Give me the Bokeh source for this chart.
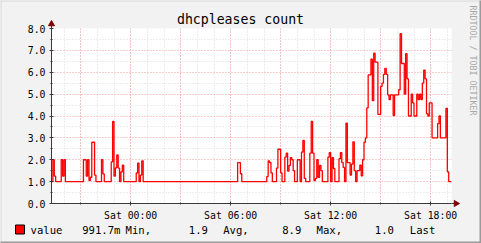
import math
from bokeh.plotting import figure
from bokeh.models import FixedTicker, Range1d, ColumnDataSource, PrintfTickFormatter
from bokeh.core.properties import value
from bokeh.embed import file_html
from bokeh.resources import INLINE

# ---- data: step starts in minutes since Sat 00:00 (negative = Friday evening) ----
t_min = [-285, -280, -275, -270, -250, -245, -240, -235,
         -170, -160, -155, -150, -145, -140, -130, -125,
         -105, -100, -95,
         -70, -65, -60, -55, -50, -45, -40, -35, -30, -25,
         20, 25, 30, 35, 40, 45,
         385, 395, 400,
         490, 495, 500, 505, 510,
         525, 530, 540, 545,
         555, 560, 565, 570, 575, 580, 585, 590,
         600, 610, 615, 620, 625, 630,
         645, 650, 655, 660, 665, 670, 675, 680, 685, 690,
         710, 715, 720, 725, 730, 735,
         750, 755, 760, 765, 770, 775, 780, 790, 795, 800, 805, 810,
         815, 825, 830, 835, 840, 845, 850, 855, 865, 870, 875, 880,
         890, 900, 905, 910, 915, 920, 925, 930, 935, 945, 950,
         965, 970, 975, 985, 990, 995, 1000, 1010, 1015, 1020,
         1030, 1035, 1040, 1045, 1050, 1055, 1060, 1065, 1070, 1075,
         1085, 1105, 1110, 1115, 1135, 1140, 1145, 1155]
values = [1.0, 2.0, 1.25, 1.0, 2.0, 1.25, 2.0, 1.0,
          2.0, 1.25, 2.0, 1.05, 1.2, 2.8, 1.3, 1.0,
          2.0, 1.35, 1.0,
          1.9, 3.75, 1.25, 1.63, 2.22, 1.62, 1.0, 1.45, 1.75, 1.0,
          1.4, 1.85, 1.0, 1.3, 1.95, 1.0,
          1.87, 1.36, 1.0,
          1.23, 1.95, 1.87, 1.4, 1.0,
          1.62, 2.48, 1.4, 1.0,
          2.12, 2.3, 1.48, 1.74, 2.1, 2.0, 1.5, 1.0,
          2.0, 1.0, 2.35, 2.88, 1.15, 1.0,
          2.3, 3.75, 2.3, 1.05, 1.15, 2.0, 1.2, 1.74, 1.5, 1.0,
          2.12, 2.33, 1.0, 2.1, 1.6, 1.0,
          2.05, 2.33, 1.87, 1.65, 1.0, 3.67, 1.87, 1.3, 1.8, 2.82, 1.5, 1.0,
          1.5, 1.75, 1.26, 2.0, 2.8, 3.0, 4.37, 5.88, 6.6, 4.7, 6.87, 6.46,
          4.07, 5.35, 5.5, 5.9, 6.18, 5.9, 4.97, 4.75, 4.97, 4.02, 4.97,
          5.2, 7.76, 6.4, 5.0, 6.85, 5.7, 4.0, 5.0, 4.6, 4.0,
          5.0, 4.75, 5.0, 4.75, 5.5, 6.1, 5.7, 4.1, 4.0, 4.6,
          3.0, 3.65, 4.0, 3.0, 4.35, 1.45, 1.0, 1.0]

x_start_min, x_end_min = -285, 1155
y_ticks = [0, 1, 2, 3, 4, 5, 6, 7, 8]
y_minor = [0.5, 1.5, 2.5, 3.5, 4.5, 5.5, 6.5, 7.5]
x_label_hours = [0, 6, 12, 18]
x_label_text = ["Sat 00:00", "Sat 06:00", "Sat 12:00", "Sat 18:00"]
x_grid_hours = [-3, 0, 3, 6, 9, 12, 15, 18]
x_minor_hours = list(range(-4, 20))

title_text = "dhcpleases count"
series_name = "value"
legend_words = ["991.7m", "Min,", "1.9", "Avg,", "8.9", "Max,", "1.0", "Last"]
legend_x = [81.7, 125, 188.3, 222.7, 281.7, 316, 374.3, 409.3]
side_text = "RRDTOOL / TOBI OETIKER"

# ---- layout constants ----
W, H = 481, 243
FL, FR, FT, FB = 51, 451, 28, 203   # frame edges in canvas px
BG = "#F2F2F2"
MONO = "DejaVu Sans Mono"
AXIS_C = "#3A3A3A"
ARROW_C = "#7F0000"

X0, X1 = x_start_min / 60, x_end_min / 60
px_per_h = (FR - FL) / (X1 - X0)
px_per_unit = (FB - FT) / 8.0


def dx(cx):
    return X0 + (cx - FL) / px_per_h


def dy(cy):
    return (FB - cy) / px_per_unit


src = ColumnDataSource(dict(h=[t / 60 for t in t_min], v=values))

p = figure(width=W, height=H, output_backend="svg", toolbar_location=None,
           x_range=Range1d(X0, X1), y_range=Range1d(0, 8),
           min_border_left=FL, min_border_right=W - FR,
           min_border_top=FT, min_border_bottom=H - FB)
p.background_fill_color = "white"
p.border_fill_color = BG
p.outline_line_color = None

p.step(x="h", y="v", source=src, mode="after", line_color="#FF0000", line_width=1.3)

# y axis
ya = p.yaxis[0]
ya.ticker = FixedTicker(ticks=y_ticks, minor_ticks=y_minor)
ya.formatter = PrintfTickFormatter(format="%.1f")
ya.major_label_standoff = 4
# x axis
xa = p.xaxis[0]
xa.ticker = FixedTicker(ticks=x_label_hours, minor_ticks=x_grid_hours)
xa.major_label_overrides = {h: s for h, s in zip(x_label_hours, x_label_text)}
xa.major_label_standoff = 4
for a in (ya, xa):
    a.major_label_text_font = MONO
    a.major_label_text_font_size = "9.8px"
    a.major_label_text_color = "#000000"
    a.axis_line_color = AXIS_C
    a.major_tick_line_color = AXIS_C
    a.minor_tick_line_color = AXIS_C
    a.major_tick_out = 2
    a.major_tick_in = 2
    a.minor_tick_out = 1
    a.minor_tick_in = 1

# grids
p.xgrid[0].ticker = FixedTicker(ticks=x_grid_hours, minor_ticks=x_minor_hours)
p.ygrid[0].ticker = FixedTicker(ticks=y_ticks, minor_ticks=y_minor)
for g in (p.xgrid[0], p.ygrid[0]):
    g.grid_line_color = "#F29A9A"
    g.grid_line_dash = "1 2"
    g.grid_line_width = 1
    g.minor_grid_line_color = "#DADADA"
    g.minor_grid_line_dash = "1 2"
    g.minor_grid_line_width = 1

# axis arrows (shaft + head), drawn in overlay level so they may leave the frame
p.segment(x0=[X0, X1], y0=[8, 0], x1=[X0, dx(FR + 3)], y1=[dy(FT - 3), 0],
          line_color=AXIS_C, line_width=1, level="overlay")
p.scatter(x=[X0], y=[dy(FT - 4.5)], marker="triangle", size=6,
          fill_color=ARROW_C, line_color=ARROW_C, level="overlay")
p.scatter(x=[dx(FR + 4.5)], y=[0], marker="triangle", angle=-math.pi / 2, size=6,
          fill_color=ARROW_C, line_color=ARROW_C, level="overlay")

# image frame shading (light top/left, dark bottom/right)
p.segment(x0=[dx(0), dx(0.5)], y0=[dy(0.5), dy(0)], x1=[dx(W), dx(0.5)], y1=[dy(0.5), dy(H)],
          line_color="#D6D6D6", line_width=1, level="overlay")
p.segment(x0=[dx(0), dx(W - 1)], y0=[dy(H - 1), dy(0)], x1=[dx(W), dx(W - 1)],
          y1=[dy(H - 1), dy(H)], line_color="#9A9A9A", line_width=2, level="overlay")


def add_text(text, cx, cy, size, align="left", color="#000000", angle=0.0):
    p.text(x=[dx(cx)], y=[dy(cy)], text=[text], text_font=value(MONO),
           text_font_size=size, text_color=color, text_align=align,
           text_baseline="middle", angle=angle, level="overlay")


add_text(title_text, 240, 19, "13.2px", align="center")
add_text(side_text, 472, 5, "8.3px", align="left", color="#A8A8A8", angle=-math.pi / 2)

# legend
p.rect(x=[dx(19.5)], y=[dy(229)], width=9 / px_per_h, height=9 / px_per_unit,
       fill_color="#FF0000", line_color="#000000", line_width=1, level="overlay")
add_text(series_name, 30, 229, "10.6px")
for w, x in zip(legend_words, legend_x):
    add_text(w, x, 229, "10.6px")

open("out.html", "w").write(file_html(p, INLINE))
